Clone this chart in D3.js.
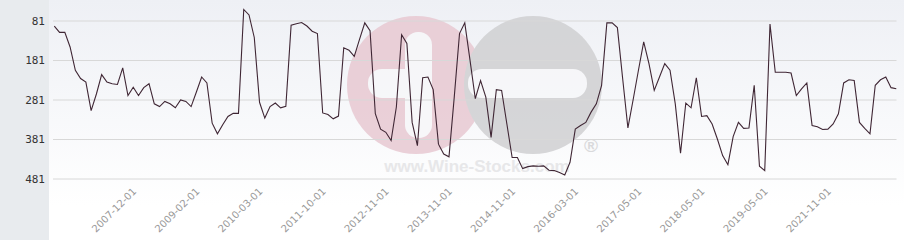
<!DOCTYPE html>
<html>
<head>
<meta charset="utf-8">
<script src="https://cdn.jsdelivr.net/npm/d3@7/dist/d3.min.js"></script>
<style>
  html, body { margin: 0; padding: 0; background: #fff; }
  svg { display: block; }
</style>
</head>
<body>
<script>
// ---- data ----
const rankValues = [
  95,111,111,148,207,228,237,309,267,218,237,241,243,201,271,250,271,251,241,292,
  299,286,292,302,282,286,299,262,224,239,341,368,345,324,316,316,53,67,124,288,
  328,299,290,302,298,93,89,86,95,108,114,315,319,330,323,150,156,172,129,87,
  107,317,356,364,385,300,117,139,339,398,226,224,256,394,419,426,275,114,87,182,
  279,233,275,377,256,258,343,428,428,456,451,449,450,449,460,461,466,472,440,356,
  347,339,313,292,245,87,87,99,228,353,281,207,135,190,258,224,190,207,292,417,
  290,302,226,324,322,343,381,423,446,375,339,354,353,245,450,461,90,212,212,212,
  214,271,254,239,347,350,357,356,343,317,239,231,233,339,354,368,245,231,224,251,254
];
const tickIndices = [16, 28, 40, 52, 64, 76, 88, 100, 112, 124, 136, 148];
const tickLabels = ["2007-12-01","2009-02-01","2010-03-01","2011-10-01","2012-11-01","2013-11-01",
                    "2014-11-01","2016-03-01","2017-05-01","2018-05-01","2019-05-01","2021-11-01"];
const yTicks = [81, 181, 281, 381, 481];

// ---- layout ----
const W = 904, H = 240;
const svg = d3.select("body").append("svg").attr("width", W).attr("height", H);

const x = d3.scaleLinear().domain([0, rankValues.length - 1]).range([54.3, 896.3]);
const y = d3.scaleLinear().domain([81, 481]).range([20.5, 178.5]);

const defs = svg.append("defs");
const grad = defs.append("linearGradient").attr("id", "bg").attr("x1", 0).attr("y1", 0).attr("x2", 0).attr("y2", 1);
grad.append("stop").attr("offset", "0%").attr("stop-color", "#eef0f5");
grad.append("stop").attr("offset", "100%").attr("stop-color", "#ffffff");

// left grey panel
svg.append("rect").attr("x", 0).attr("y", 0).attr("width", 49).attr("height", H).attr("fill", "#e8ebee");
// plot background
svg.append("rect").attr("x", 49).attr("y", 0).attr("width", W - 49).attr("height", 205).attr("fill", "url(#bg)");

// watermark
const wm = svg.append("g").attr("opacity", 0.85);
wm.append("circle").attr("cx", 416).attr("cy", 85).attr("r", 69).attr("fill", "#e8c9d2");
wm.append("circle").attr("cx", 533).attr("cy", 85).attr("r", 69).attr("fill", "#d0d0d2");
wm.append("rect").attr("x", 368).attr("y", 69).attr("width", 60).attr("height", 29).attr("rx", 14).attr("fill", "#f7f7f9");
wm.append("rect").attr("x", 405).attr("y", 32).attr("width", 27).attr("height", 106).attr("rx", 13).attr("fill", "#f7f7f9");
wm.append("rect").attr("x", 468).attr("y", 69).attr("width", 119).attr("height", 29).attr("rx", 14).attr("fill", "#f7f7f9");
wm.append("text").attr("x", 477).attr("y", 172).attr("text-anchor", "middle")
  .attr("font-family", "Liberation Sans, Arial, sans-serif").attr("font-weight", "bold")
  .attr("font-size", 17).attr("fill", "#e4e4e6").text("www.Wine-Stocks.com");
wm.append("text").attr("x", 591).attr("y", 152).attr("text-anchor", "middle")
  .attr("font-family", "Liberation Sans, Arial, sans-serif").attr("font-weight", "bold")
  .attr("font-size", 19).attr("fill", "#d4d4d6").text("®");

// gridlines + y labels via axis
const yAxis = d3.axisLeft(y).tickValues(yTicks).tickSize(-(896.5 - 53)).tickPadding(8);
const gy = svg.append("g").attr("transform", "translate(53,0)").call(yAxis);
gy.select(".domain").remove();
gy.selectAll(".tick line").attr("stroke", "#d8d8d8").attr("stroke-width", 1);
gy.selectAll(".tick text").attr("font-family", "DejaVu Sans Mono, monospace").attr("font-size", 11)
  .attr("fill", "#333").attr("x", -8);

// x labels via axis
const xAxis = d3.axisBottom(x).tickValues(tickIndices).tickSize(0)
  .tickFormat((d, i) => tickLabels[tickIndices.indexOf(d)]);
const gx = svg.append("g").attr("transform", "translate(0,192)").call(xAxis);
gx.select(".domain").remove();
gx.selectAll(".tick text")
  .attr("font-family", "DejaVu Sans, sans-serif").attr("font-size", 10).attr("fill", "#999")
  .attr("text-anchor", "end").attr("dy", 0).attr("y", 0)
  .attr("transform", "translate(-2,0) rotate(-45)");

// line
const line = d3.line().x((d, i) => x(i)).y(d => y(d));
svg.append("path").datum(rankValues).attr("d", line)
  .attr("fill", "none").attr("stroke", "#3f2634").attr("stroke-width", 1.1)
  .attr("stroke-linejoin", "miter");
</script>
</body>
</html>
